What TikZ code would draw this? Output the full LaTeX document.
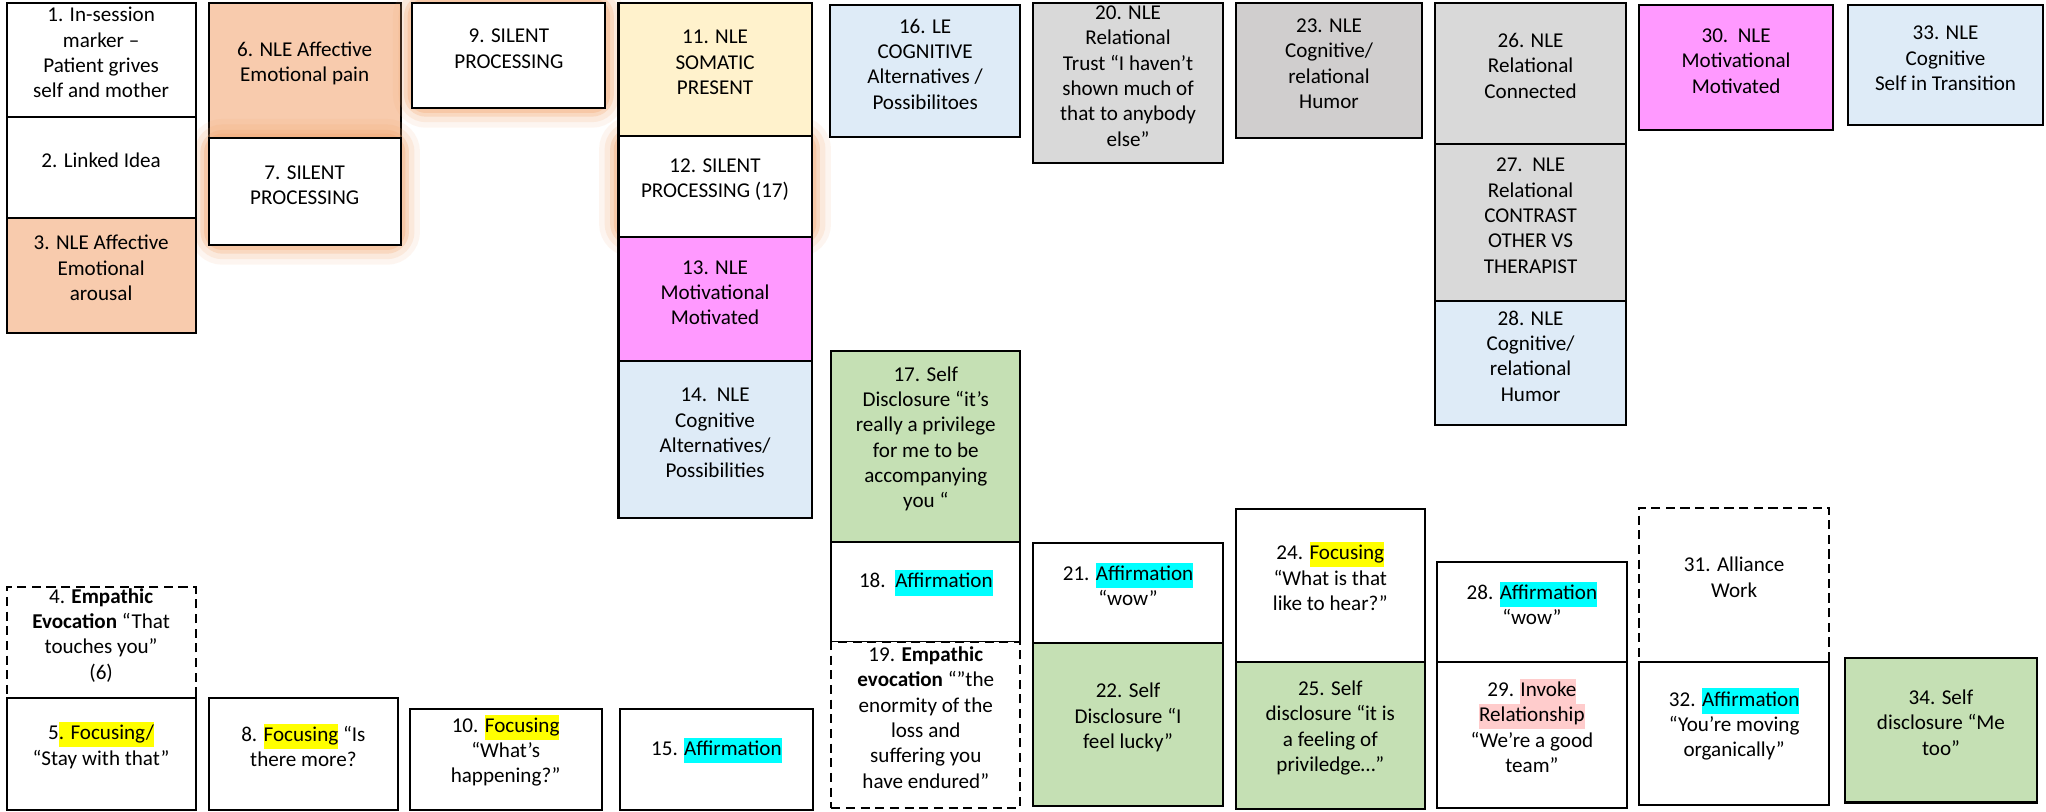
\documentclass[tikz,border=0pt]{standalone}
\usepackage{fontspec}
\setmainfont{Carlito}
\usetikzlibrary{fit}
\pgfdeclarelayer{edgelayer}
\pgfdeclarelayer{nodelayer}
\pgfsetlayers{edgelayer,nodelayer,main}
\definecolor{nlePeach}{HTML}{F8CBAD}
\definecolor{nleYellow}{HTML}{FFF2CC}
\definecolor{nlePink}{HTML}{FF99FF}
\definecolor{nleBlue}{HTML}{DEEBF7}
\definecolor{nleGray}{HTML}{D9D9D9}
\definecolor{nleDarkGray}{HTML}{D0CECE}
\definecolor{selfGreen}{HTML}{C5E0B4}
\definecolor{hlYellow}{HTML}{FFFF00}
\definecolor{hlCyan}{HTML}{00FFFF}
\definecolor{hlPink}{HTML}{FFCCCC}
\definecolor{glowOrange}{HTML}{F4A66E}
\newcommand{\hlbox}[2]{{\setlength{\fboxsep}{0pt}\colorbox{#1}{\strut #2}}}
\tikzstyle{none} = []
\tikzstyle{Plain Box}=[draw=black, line width=1.1pt, fill=white, inner sep=0pt, align=center, font=\fontsize{11.5}{13.8}\selectfont]
\tikzstyle{Peach Box}=[Plain Box, fill=nlePeach]
\tikzstyle{Yellow Box}=[Plain Box, fill=nleYellow]
\tikzstyle{Pink Box}=[Plain Box, fill=nlePink]
\tikzstyle{Blue Box}=[Plain Box, fill=nleBlue]
\tikzstyle{Gray Box}=[Plain Box, fill=nleGray]
\tikzstyle{Dark Gray Box}=[Plain Box, fill=nleDarkGray]
\tikzstyle{Green Box}=[Plain Box, fill=selfGreen]
\tikzstyle{Dashed Box}=[Plain Box, dash pattern=on 5pt off 3pt]
\tikzstyle{Glow}=[draw=glowOrange, rounded corners=8pt]
\begin{document}
\begin{tikzpicture}[x=0.25mm, y=-0.25mm]
	\useasboundingbox (0,0) rectangle (1568,622);
	\begin{pgfonlayer}{nodelayer}
		\node [style=Plain Box, fit={(5,2) (150,90)}] (1) {1. In-session\\marker –\\Patient grives\\self and mother};
		\node [style=Plain Box, fit={(5,90) (150,167)}] (2) {2. Linked Idea};
		\node [style=Peach Box, fit={(5,167) (150,255)}] (3) {3. NLE Affective\\Emotional\\arousal};
		\node [style=Dashed Box, fit={(5,450) (150,535)}] (4) {4. \textbf{Empathic}\\\textbf{Evocation} “That\\touches you”\\(6)};
		\node [style=Plain Box, fit={(5,535) (150,621)}] (5) {5\hlbox{hlYellow}{. Focusing/}\\“Stay with that”};
		\node [style=Plain Box, fit={(160,106) (307,188)}] (7) {7. SILENT\\PROCESSING};
		\node [style=Plain Box, fit={(160,535) (305,621)}] (8) {8. \hlbox{hlYellow}{Focusing} “Is\\there more?};
		\node [style=Plain Box, fit={(316,2) (464,83)}] (9) {9. SILENT\\PROCESSING};
		\node [style=Plain Box, fit={(314,543) (461,621)}] (10) {10. \hlbox{hlYellow}{Focusing}\\“What’s\\happening?”};
		\node [style=Yellow Box, fit={(474,2) (622,104)}] (11) {11. NLE\\SOMATIC\\PRESENT};
		\node [style=Plain Box, fit={(474,104) (622,182)}] (12) {12. SILENT\\PROCESSING (17)};
		\node [style=Pink Box, fit={(474,182) (622,277)}] (13) {13. NLE\\Motivational\\Motivated};
		\node [style=Blue Box, fit={(474,277) (622,397)}] (14) {14.\ \ NLE\\Cognitive\\Alternatives/\\Possibilities};
		\node [style=Plain Box, fit={(475,543) (623,621)}] (15) {15. \hlbox{hlCyan}{Affirmation}};
		\node [style=Blue Box, fit={(636,4) (782,105)}] (16) {16. LE\\COGNITIVE\\Alternatives /\\Possibilitoes};
		\node [style=Green Box, fit={(637,269) (782,415)}] (17) {17. Self\\Disclosure “it’s\\really a privilege\\for me to be\\accompanying\\you “};
		\node [style=Plain Box, fit={(637,415) (782,492)}] (18) {18.\ \ \hlbox{hlCyan}{Affirmation}};
		\node [style=Dashed Box, fit={(637,492) (782,619)}] (19) {19. \textbf{Empathic}\\\textbf{evocation} “”the\\enormity of the\\loss and\\suffering you\\have endured”};
		\node [style=Gray Box, fit={(792,2) (937,125)}] (20) {20. NLE\\Relational\\Trust “I haven’t\\shown much of\\that to anybody\\else”};
		\node [style=Plain Box, fit={(792,416) (937,493)}] (21) {21. \hlbox{hlCyan}{Affirmation}\\“wow”};
		\node [style=Green Box, fit={(792,493) (937,618)}] (22) {22. Self\\Disclosure “I\\feel lucky”};
		\node [style=Dark Gray Box, fit={(947,2) (1090,106)}] (23) {23. NLE\\Cognitive/\\relational\\Humor};
		\node [style=Plain Box, fit={(947,390) (1092,507)}] (24) {24. \hlbox{hlYellow}{Focusing}\\“What is that\\like to hear?”};
		\node [style=Green Box, fit={(947,507) (1092,620)}] (25) {25. Self\\disclosure “it is\\a feeling of\\priviledge…”};
		\node [style=Gray Box, fit={(1100,2) (1246,110)}] (26) {26. NLE\\Relational\\Connected};
		\node [style=Gray Box, fit={(1100,110) (1246,231)}] (27) {27.\ \ NLE\\Relational\\CONTRAST\\OTHER VS\\THERAPIST};
		\node [style=Blue Box, fit={(1100,231) (1246,326)}] (28a) {28. NLE\\Cognitive/\\relational\\Humor};
		\node [style=Plain Box, fit={(1101,431) (1247,507)}] (28b) {28. \hlbox{hlCyan}{Affirmation}\\“wow”};
		\node [style=Plain Box, fit={(1101,507) (1247,619)}] (29) {29. \hlbox{hlPink}{Invoke}\\\hlbox{hlPink}{Relationship}\\“We’re a good\\team”};
		\node [style=Pink Box, fit={(1256,4) (1405,100)}] (30) {30.\ \ NLE\\Motivational\\Motivated};
		\node [style=Dashed Box, fit={(1256,389) (1402,507)}] (31) {31. Alliance\\Work};
		\node [style=Plain Box, fit={(1256,507) (1402,617)}] (32) {32. \hlbox{hlCyan}{Affirmation}\\“You’re moving\\organically”};
		\node [style=Blue Box, fit={(1416,4) (1566,96)}] (33) {33. NLE\\Cognitive\\Self in Transition};
		\node [style=Green Box, fit={(1414,504) (1561,615)}] (34) {34. Self\\disclosure “Me\\too”};
	\end{pgfonlayer}
	\begin{pgfonlayer}{edgelayer}
		\fill [white] (0,0) rectangle (1568,622);
		\node [style=Peach Box, fit={(160,2) (307,106)}] (6) {6. NLE Affective\\Emotional pain};
		% orange glow round the silent processing boxes
		\foreach \n in {7,9,12}
			\foreach \w/\o in {20pt/0.1, 14pt/0.15, 8pt/0.25, 4pt/0.3}
				\draw [style=Glow, line width=\w, opacity=\o] (\n.north west) rectangle (\n.south east);
	\end{pgfonlayer}
\end{tikzpicture}
\end{document}
